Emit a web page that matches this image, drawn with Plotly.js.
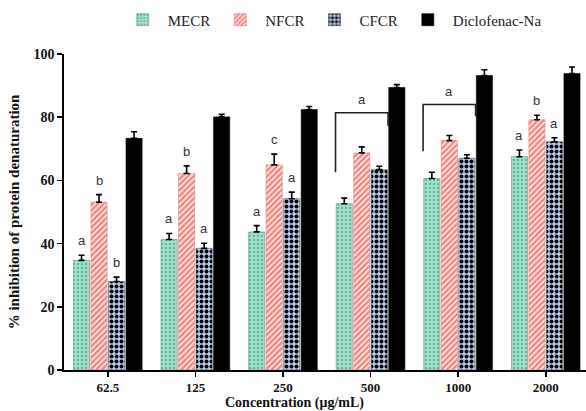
<!DOCTYPE html>
<html>
<head>
<meta charset="utf-8">
<script src="https://cdn.plot.ly/plotly-3.0.1.min.js"></script>
<style>html,body{margin:0;padding:0;background:#fff;}#chart{width:586px;height:411px;}</style>
</head>
<body>
<div id="chart"></div>
<script>
const categories = ["62.5", "125", "250", "500", "1000", "2000"];
const seriesNames = ["MECR", "NFCR", "CFCR", "Diclofenac-Na"];
const mecr = [34.7, 41.3, 43.7, 52.6, 60.6, 67.5];
const mecrErr = [1.6, 1.9, 2.0, 1.8, 2.0, 2.1];
const nfcr = [53.1, 62.2, 64.9, 68.7, 72.6, 79.2];
const nfcrErr = [2.4, 2.4, 3.4, 1.9, 1.6, 1.4];
const cfcr = [28.0, 38.5, 54.2, 63.4, 67.0, 72.2];
const cfcrErr = [1.4, 1.6, 2.1, 1.1, 1.1, 1.3];
const diclo = [73.3, 80.1, 82.4, 89.4, 93.2, 93.8];
const dicloErr = [2.1, 0.8, 1.0, 0.9, 1.8, 2.1];
const yTicks = [0, 20, 40, 60, 80, 100];
// significance letters per series (empty = none)
const mecrLetters = ["a", "a", "a", "", "", "a"];
const nfcrLetters = ["b", "b", "c", "", "", "b"];
const cfcrLetters = ["b", "a", "a", "", "", "a"];
// brackets: category index, letter, top value, left-end value, right-end value
const bracketCats = [3, 4];
const bracketLetters = ["a", "a"];
const bracketTop = [81.4, 84.0];
const bracketLeftEnd = [62.6, 69.2];
const bracketRightEnd = [77.2, 80.3];

const values = [mecr, nfcr, cfcr, diclo];
const errs = [mecrErr, nfcrErr, cfcrErr, dicloErr];
const letters = [mecrLetters, nfcrLetters, cfcrLetters, null];
const styles = [
  {color: "#98e3c9", line: "#7a8a85", pattern: {shape: ".", fgcolor: "#3d5f55", bgcolor: "#98e3c9", size: 4, solidity: 0.12}},
  {color: "#f6857f", line: "#c98a86", pattern: {shape: "/", fgcolor: "#ffffff", bgcolor: "#f6857f", size: 4, solidity: 0.35}},
  {color: "#b8cdf0", line: "#555555", pattern: {shape: ".", fgcolor: "#000000", bgcolor: "#b8cdf0", size: 5, solidity: 0.5}},
  {color: "#000000", line: "#000000", pattern: {shape: ""}}
];

const zeros = categories.map(() => 0);
const traces = values.map((v, i) => ({
  type: "bar",
  name: seriesNames[i],
  x: categories,
  y: v,
  marker: {color: styles[i].color, line: {color: styles[i].line, width: 0.6}, pattern: styles[i].pattern},
  error_y: {type: "data", symmetric: false, array: errs[i], arrayminus: zeros, color: "#000", thickness: 1.6, width: 3}
}));

const nSeries = values.length;
const groupWidth = 0.8;
const slot = groupWidth / nSeries;
const annotations = [];
letters.forEach((arr, s) => {
  if (!arr) return;
  arr.forEach((t, c) => {
    if (!t) return;
    annotations.push({
      x: c - groupWidth / 2 + slot * (s + 0.5), y: values[s][c] + errs[s][c],
      xref: "x", yref: "y", text: t, showarrow: false, yanchor: "bottom", yshift: 5,
      font: {family: "Liberation Sans, Arial", size: 13, color: "#333"}
    });
  });
});
const shapes = [];
bracketCats.forEach((c, k) => {
  const xl = c - 0.4, xr = c + 0.2;
  shapes.push({type: "path", xref: "x", yref: "y",
    path: `M${xl},${bracketLeftEnd[k]} L${xl},${bracketTop[k]} L${xr},${bracketTop[k]} L${xr},${bracketRightEnd[k]}`,
    line: {color: "#222", width: 1.6}});
  annotations.push({x: (xl + xr) / 2, y: bracketTop[k], xref: "x", yref: "y", text: bracketLetters[k],
    showarrow: false, yanchor: "bottom", yshift: 4, font: {family: "Liberation Sans, Arial", size: 13, color: "#333"}});
});
annotations.push({x: 0.4425, y: 0, xref: "paper", yref: "paper", yanchor: "top", yshift: -23,
  text: "Concentration (μg/mL)", showarrow: false,
  font: {family: "Liberation Serif, Times New Roman", size: 14, color: "#111", weight: "bold"}});

const layout = {
  width: 586, height: 411,
  margin: {l: 64, r: 0, t: 54, b: 41},
  paper_bgcolor: "#fff", plot_bgcolor: "#fff",
  barmode: "group", bargap: 0.2, bargroupgap: 0.08,
  showlegend: true,
  legend: {orientation: "h", x: 0.103, y: 1.16, xanchor: "left", yanchor: "top",
    traceorder: "normal", itemwidth: 40, bgcolor: "rgba(0,0,0,0)",
    font: {family: "Liberation Serif, Times New Roman", size: 15, color: "#222"}},
  xaxis: {type: "category", range: [-0.5, 5.46], showline: true, linecolor: "#000", linewidth: 1.6,
    ticks: "outside", ticklen: 5, tickwidth: 1.6, tickcolor: "#000", showgrid: false, zeroline: false,
    tickfont: {family: "Liberation Serif, Times New Roman", size: 13, color: "#111", weight: "bold"}},
  yaxis: {range: [0, 100], tickvals: yTicks, showline: true, linecolor: "#000", linewidth: 1.6,
    ticks: "outside", ticklen: 5, tickwidth: 1.6, tickcolor: "#000", showgrid: false, zeroline: false,
    tickfont: {family: "Liberation Serif, Times New Roman", size: 14, color: "#111", weight: "bold"},
    title: {text: "% inhibition of protein denaturation", standoff: 10,
      font: {family: "Liberation Serif, Times New Roman", size: 15, color: "#111", weight: "bold"}}},
  annotations: annotations,
  shapes: shapes
};
Plotly.newPlot("chart", traces, layout, {displayModeBar: false, staticPlot: true});
</script>
</body>
</html>
